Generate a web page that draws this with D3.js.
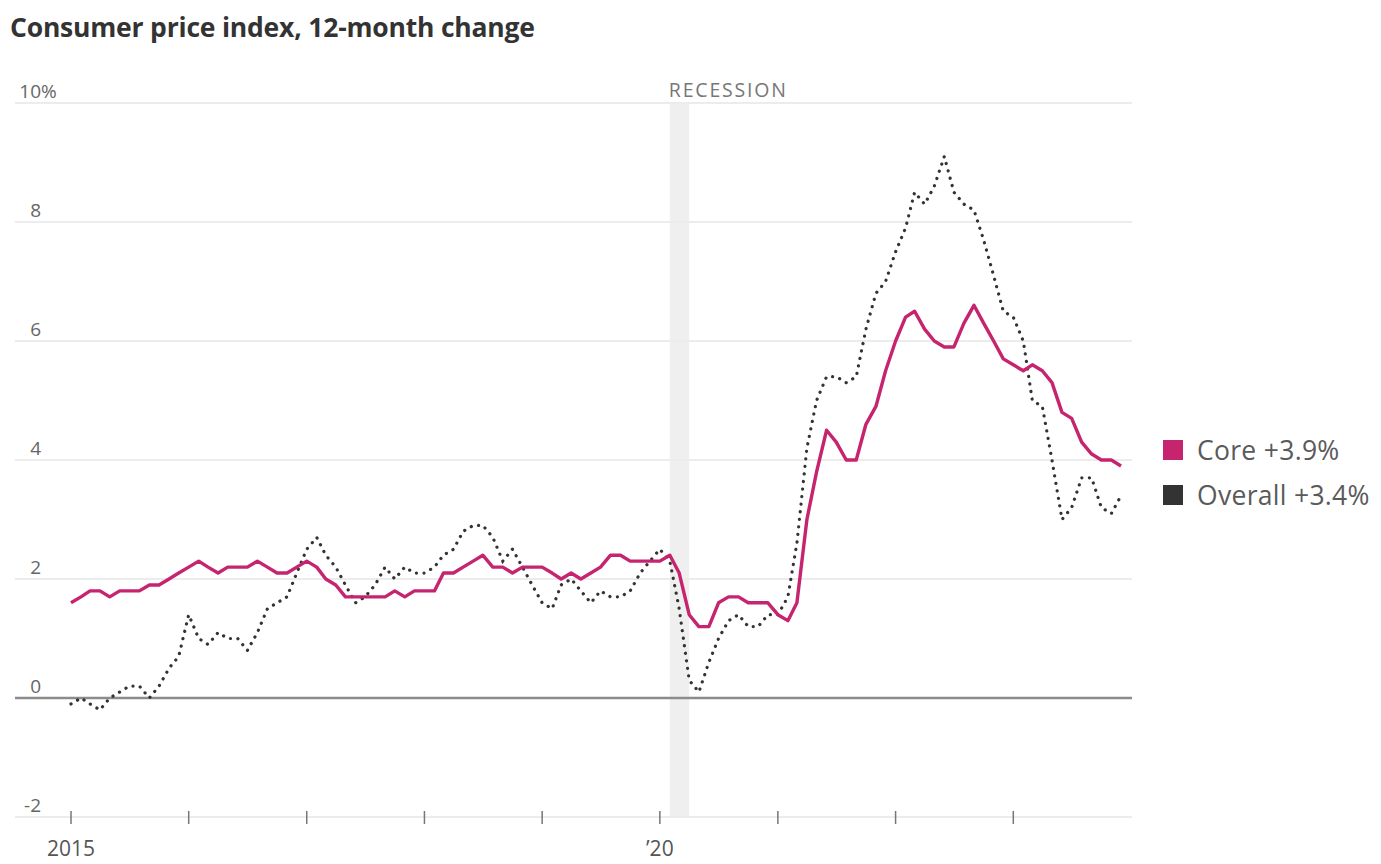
<!DOCTYPE html>
<html>
<head>
<meta charset="utf-8">
<script src="https://cdn.jsdelivr.net/npm/d3@7"></script>
<style>
  html, body { margin: 0; padding: 0; background: #fff; }
  svg { display: block; }
</style>
</head>
<body>
<svg id="chart" width="1381" height="864"></svg>
<script>
// Monthly 12-month % change, January 2015 through December 2023
const startMonth = "2015-01";
const coreValues = [
  1.6, 1.7, 1.8, 1.8, 1.7, 1.8, 1.8, 1.8, 1.9, 1.9, 2.0, 2.1,
  2.2, 2.3, 2.2, 2.1, 2.2, 2.2, 2.2, 2.3, 2.2, 2.1, 2.1, 2.2,
  2.3, 2.2, 2.0, 1.9, 1.7, 1.7, 1.7, 1.7, 1.7, 1.8, 1.7, 1.8,
  1.8, 1.8, 2.1, 2.1, 2.2, 2.3, 2.4, 2.2, 2.2, 2.1, 2.2, 2.2,
  2.2, 2.1, 2.0, 2.1, 2.0, 2.1, 2.2, 2.4, 2.4, 2.3, 2.3, 2.3,
  2.3, 2.4, 2.1, 1.4, 1.2, 1.2, 1.6, 1.7, 1.7, 1.6, 1.6, 1.6,
  1.4, 1.3, 1.6, 3.0, 3.8, 4.5, 4.3, 4.0, 4.0, 4.6, 4.9, 5.5,
  6.0, 6.4, 6.5, 6.2, 6.0, 5.9, 5.9, 6.3, 6.6, 6.3, 6.0, 5.7,
  5.6, 5.5, 5.6, 5.5, 5.3, 4.8, 4.7, 4.3, 4.1, 4.0, 4.0, 3.9
];
const overallValues = [
  -0.1, 0.0, -0.1, -0.2, 0.0, 0.1, 0.2, 0.2, 0.0, 0.2, 0.5, 0.7,
  1.4, 1.0, 0.9, 1.1, 1.0, 1.0, 0.8, 1.1, 1.5, 1.6, 1.7, 2.1,
  2.5, 2.7, 2.4, 2.2, 1.9, 1.6, 1.7, 1.9, 2.2, 2.0, 2.2, 2.1,
  2.1, 2.2, 2.4, 2.5, 2.8, 2.9, 2.9, 2.7, 2.3, 2.5, 2.2, 1.9,
  1.6, 1.5, 1.9, 2.0, 1.8, 1.6, 1.8, 1.7, 1.7, 1.8, 2.1, 2.3,
  2.5, 2.3, 1.5, 0.3, 0.1, 0.6, 1.0, 1.3, 1.4, 1.2, 1.2, 1.4,
  1.4, 1.7, 2.6, 4.2, 5.0, 5.4, 5.4, 5.3, 5.4, 6.2, 6.8, 7.0,
  7.5, 7.9, 8.5, 8.3, 8.6, 9.1, 8.5, 8.3, 8.2, 7.7, 7.1, 6.5,
  6.4, 6.0, 5.0, 4.9, 4.0, 3.0, 3.2, 3.7, 3.7, 3.2, 3.1, 3.4
];
const yTicks = [-2, 0, 2, 4, 6, 8, 10];
const yearTicks = [2015, 2016, 2017, 2018, 2019, 2020, 2021, 2022, 2023];
const yearLabels = { 2015: "2015", 2020: "\u201920" };
const recession = ["2020-02-01", "2020-04-01"];
const legendItems = [
  { key: "core", label: "Core +3.9%" },
  { key: "overall", label: "Overall +3.4%" }
];

const colors = { core: "#c6246f", overall: "#333333" };
const font = "'Open Sans', 'Noto Sans', sans-serif";

const parseMonth = d3.timeParse("%Y-%m");
const t0 = parseMonth(startMonth);
const months = coreValues.map((_, i) => d3.timeMonth.offset(t0, i));

const svg = d3.select("#chart");

const x = d3.scaleTime()
  .domain([new Date(2015, 0, 1), new Date(2024, 0, 1)])
  .range([71, 1131]);
const y = d3.scaleLinear().domain([-2, 10]).range([817, 103]);

const gridLeft = 15, gridRight = 1132;

// Title
svg.append("text")
  .attr("x", 10).attr("y", 37)
  .attr("font-family", font).attr("font-weight", 700)
  .attr("font-size", 26.5).attr("fill", "#333")
  .attr("letter-spacing", -0.2)
  .text("Consumer price index, 12-month change");

// Recession shading
svg.append("rect")
  .attr("x", x(new Date(recession[0])))
  .attr("width", x(new Date(recession[1])) - x(new Date(recession[0])))
  .attr("y", y(10)).attr("height", y(-2) - y(10))
  .attr("fill", "#efefef");

svg.append("text")
  .attr("x", x(new Date(recession[0])) - 1).attr("y", 97)
  .attr("font-family", font).attr("font-size", 19.5)
  .attr("letter-spacing", 1.8)
  .attr("fill", "#777")
  .text("RECESSION");

// Horizontal grid
const grid = svg.append("g");
grid.selectAll("line").data(yTicks).join("line")
  .attr("x1", gridLeft).attr("x2", gridRight)
  .attr("y1", d => y(d)).attr("y2", d => y(d))
  .attr("stroke", d => d === 0 ? "#8c8c8c" : "#ececec")
  .attr("stroke-width", d => d === 0 ? 2.5 : 2);

// Y labels sit above their grid lines
const yLab = svg.append("g")
  .attr("font-family", font).attr("font-size", 19).attr("fill", "#666");
yLab.selectAll("text").data(yTicks).join("text")
  .attr("x", 41).attr("y", d => y(d) - 5)
  .attr("text-anchor", "end")
  .text(d => d);
yLab.append("text")
  .attr("x", 41).attr("y", y(10) - 5)
  .text("%");

// X axis ticks and labels
const xAxis = svg.append("g");
xAxis.selectAll("line").data(yearTicks).join("line")
  .attr("x1", d => x(new Date(d, 0, 1))).attr("x2", d => x(new Date(d, 0, 1)))
  .attr("y1", 811).attr("y2", 824)
  .attr("stroke", "#777").attr("stroke-width", 1.5);
xAxis.selectAll("text").data(yearTicks.filter(d => yearLabels[d])).join("text")
  .attr("x", d => x(new Date(d, 0, 1))).attr("y", 856)
  .attr("text-anchor", "middle")
  .attr("font-family", font).attr("font-size", 21).attr("fill", "#555")
  .text(d => yearLabels[d]);

// Lines
const line = d3.line()
  .x((d, i) => x(months[i]))
  .y(d => y(d));

svg.append("path")
  .datum(overallValues)
  .attr("d", line)
  .attr("fill", "none")
  .attr("stroke", colors.overall)
  .attr("stroke-width", 3.2)
  .attr("stroke-linecap", "round")
  .attr("stroke-dasharray", "0.1 7.5");

svg.append("path")
  .datum(coreValues)
  .attr("d", line)
  .attr("fill", "none")
  .attr("stroke", colors.core)
  .attr("stroke-width", 3.4)
  .attr("stroke-linejoin", "round");

// Legend
const legend = svg.append("g").attr("transform", "translate(1163,440)");
const li = legend.selectAll("g").data(legendItems).join("g")
  .attr("transform", (d, i) => `translate(0,${i * 45})`);
li.append("rect")
  .attr("width", 20).attr("height", 20)
  .attr("fill", d => colors[d.key]);
li.append("text")
  .attr("x", 34).attr("y", 20)
  .attr("font-family", font).attr("font-size", 26.5).attr("fill", "#5a5a5a")
  .attr("letter-spacing", 0.3)
  .text(d => d.label);
</script>
</body>
</html>
